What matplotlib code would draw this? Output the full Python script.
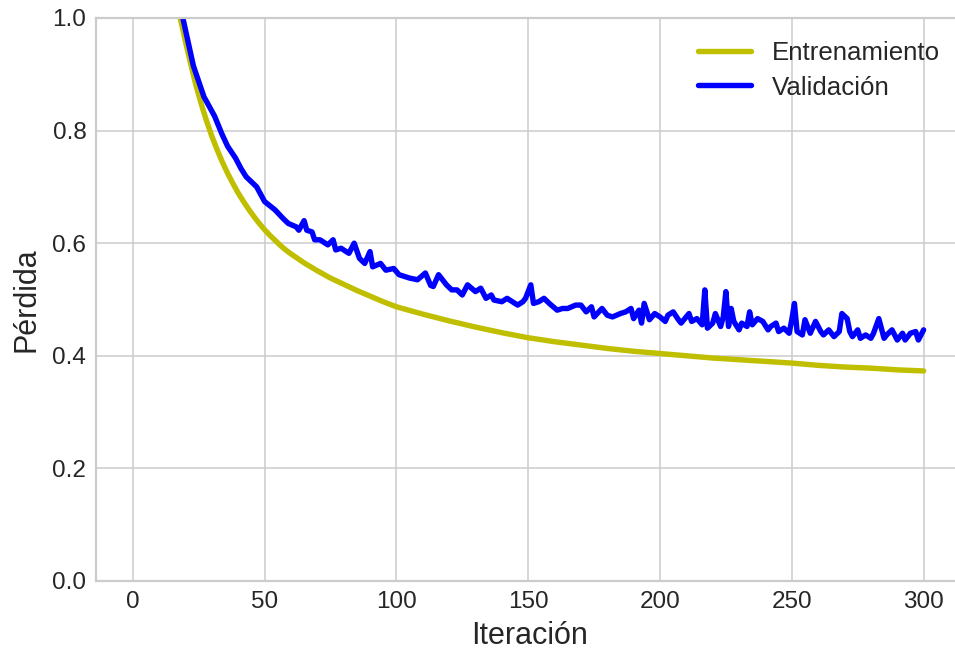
import matplotlib
matplotlib.use("Agg")
import matplotlib.pyplot as plt

# Training loss (smooth curve), sampled iterations
train_iter = [1, 5, 10, 12, 14, 16, 18, 20, 22, 24, 26, 28, 30, 32, 34, 36, 38,
              40, 42, 44, 46, 48, 50, 52, 54, 56, 58, 60, 65, 70, 75, 80, 85, 90,
              95, 100, 110, 120, 130, 140, 150, 160, 170, 180, 190, 200, 210, 220,
              230, 240, 250, 260, 270, 280, 290, 300]
train_loss = [1.8, 1.45, 1.21, 1.15, 1.095, 1.045, 1.000, 0.958, 0.918, 0.880,
              0.847, 0.817, 0.790, 0.766, 0.744, 0.724, 0.706, 0.689, 0.674, 0.660,
              0.647, 0.635, 0.624, 0.614, 0.605, 0.596, 0.588, 0.581, 0.565, 0.551,
              0.538, 0.527, 0.516, 0.506, 0.496, 0.487, 0.474, 0.462, 0.451, 0.441,
              0.432, 0.425, 0.419, 0.413, 0.408, 0.404, 0.400, 0.396, 0.393, 0.390,
              0.387, 0.383, 0.380, 0.378, 0.375, 0.373]

# Validation loss (noisy curve)
val_iter = [1, 5, 10, 15, 19, 23, 27, 31, 34, 36, 39, 41, 43, 47, 50, 54, 57, 59,
            62, 63, 65, 66, 68, 69, 71, 74, 76, 77, 79, 82, 84, 86, 88, 90, 91, 94,
            96, 99, 101, 105, 108, 111, 113, 114, 116, 119, 121, 123, 125, 127, 130,
            132, 134, 136, 137, 140, 142, 144, 146, 148, 149, 151, 152, 154, 156,
            158, 161, 163, 165, 168, 170, 172, 174, 175, 178, 180, 182, 185, 187,
            189, 190, 192, 193, 194, 196, 198, 200, 202, 203, 205, 207, 208, 211,
            212, 214, 216, 217, 218, 220, 221, 223, 224, 225, 226, 227, 228, 230,
            231, 233, 234, 235, 237, 239, 241, 242, 244, 245, 247, 249, 250, 251,
            252, 254, 255, 257, 259, 261, 262, 264, 266, 268, 269, 271, 272, 273,
            275, 276, 278, 280, 281, 283, 285, 286, 288, 290, 292, 293, 295, 297,
            298, 300]
val_loss = [2.0, 1.5, 1.25, 1.09, 1.0, 0.915, 0.860, 0.826, 0.792, 0.772, 0.751,
            0.733, 0.718, 0.700, 0.674, 0.659, 0.644, 0.635, 0.629, 0.623, 0.640,
            0.623, 0.620, 0.606, 0.606, 0.597, 0.606, 0.588, 0.591, 0.582, 0.600,
            0.573, 0.564, 0.585, 0.558, 0.564, 0.552, 0.555, 0.544, 0.538, 0.535,
            0.547, 0.525, 0.523, 0.544, 0.526, 0.517, 0.517, 0.508, 0.526, 0.514,
            0.520, 0.502, 0.508, 0.499, 0.496, 0.502, 0.496, 0.490, 0.496, 0.502,
            0.526, 0.493, 0.496, 0.502, 0.493, 0.481, 0.484, 0.484, 0.490, 0.490,
            0.478, 0.487, 0.469, 0.484, 0.472, 0.469, 0.475, 0.478, 0.484, 0.466,
            0.481, 0.458, 0.493, 0.464, 0.475, 0.469, 0.461, 0.472, 0.478, 0.464,
            0.458, 0.475, 0.461, 0.466, 0.455, 0.517, 0.449, 0.458, 0.475, 0.452,
            0.469, 0.514, 0.452, 0.484, 0.461, 0.446, 0.458, 0.452, 0.478, 0.455,
            0.466, 0.461, 0.446, 0.452, 0.458, 0.443, 0.449, 0.440, 0.464, 0.493,
            0.443, 0.437, 0.464, 0.440, 0.461, 0.443, 0.437, 0.446, 0.434, 0.443,
            0.475, 0.466, 0.443, 0.434, 0.446, 0.431, 0.437, 0.431, 0.440, 0.466,
            0.431, 0.437, 0.446, 0.428, 0.440, 0.428, 0.440, 0.443, 0.428, 0.446]

x_ticks = [0, 50, 100, 150, 200, 250, 300]
y_ticks = [0.0, 0.2, 0.4, 0.6, 0.8, 1.0]

plt.rcParams["font.family"] = ["Liberation Sans", "DejaVu Sans"]

fig = plt.figure(figsize=(9.55, 6.53), dpi=100)
ax = fig.add_axes([0.1005, 0.1103, 0.9079, 0.8622])

ax.plot(train_iter, train_loss, color="#bfbf00", lw=3.9, label="Entrenamiento",
        solid_capstyle="round", solid_joinstyle="round")
ax.plot(val_iter, val_loss, color="#0000ff", lw=3.9, label="Validación",
        solid_joinstyle="round", solid_capstyle="round")

ax.set_xlim(-13.95, 314.95)
ax.set_ylim(0, 1.0)
ax.set_xticks(x_ticks)
ax.set_yticks(y_ticks)
ax.set_yticklabels([f"{v:.1f}" for v in y_ticks])

ax.grid(True, color="#cccccc", lw=1.1)
ax.set_axisbelow(True)
for s in ax.spines.values():
    s.set_color("#cccccc")
    s.set_linewidth(1.6)

ax.tick_params(axis="both", length=0, labelsize=17.5, colors="#262626", pad=7)
ax.set_xlabel("Iteración", fontsize=22, color="#262626", labelpad=6)
ax.set_ylabel("Pérdida", fontsize=22, color="#262626", labelpad=8)

leg = ax.legend(loc="upper right", fontsize=18.6, frameon=False,
                handlelength=2.05, handletextpad=0.8, labelspacing=0.4)
for t in leg.get_texts():
    t.set_color("#262626")

fig.savefig("out.png", dpi=100)
